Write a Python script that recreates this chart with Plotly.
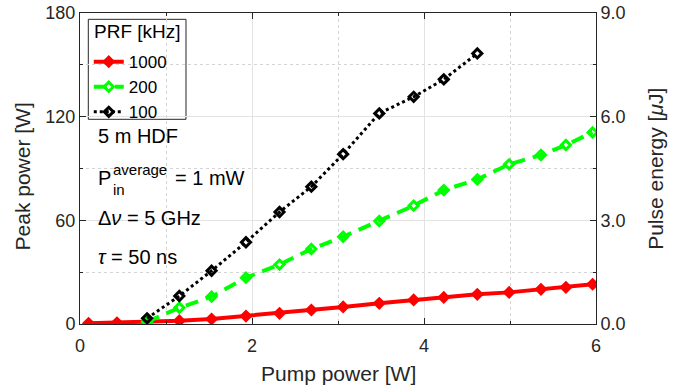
import plotly.graph_objects as go

# Pump power [W] at which each PRF setting was measured
pump_1000 = [0.10, 0.43, 0.78, 1.155, 1.53, 1.93, 2.32, 2.69, 3.06, 3.48, 3.88, 4.23, 4.62, 4.99, 5.36, 5.65, 5.96]
pump_200 = [0.78, 1.155, 1.53, 1.93, 2.32, 2.69, 3.06, 3.48, 3.88, 4.23, 4.62, 4.99, 5.36, 5.65, 5.96]
pump_100 = [0.78, 1.155, 1.53, 1.93, 2.32, 2.69, 3.06, 3.48, 3.88, 4.23, 4.62]

# Peak power [W]
peak_1000 = [0.4, 0.7, 1.1, 1.9, 2.9, 4.6, 6.2, 8.1, 9.9, 12.0, 13.9, 15.4, 17.2, 18.3, 20.1, 21.2, 23.0]
peak_200 = [1.3, 9.4, 15.8, 26.8, 34.4, 43.4, 50.5, 59.6, 68.5, 77.5, 83.7, 92.4, 97.8, 103.6, 110.9]
peak_100 = [3.3, 16.2, 30.8, 47.3, 64.8, 79.5, 98.3, 121.9, 131.5, 141.6, 156.6]

prf_labels = ["1000", "200", "100"]

x_ticks = [0, 2, 4, 6]
y_ticks = [0, 60, 120, 180]
y2_ticks = [0, 3, 6, 9]

AXIS = "#262626"
FONT = "Liberation Sans, Arial, Helvetica, sans-serif"

fig = go.Figure()

fig.add_trace(go.Scatter(
    x=pump_1000, y=peak_1000, name=prf_labels[0], mode="lines+markers",
    line=dict(color="#ff0000", width=4),
    marker=dict(symbol="diamond", size=8, color="#ff0000", line=dict(color="#ff0000", width=2)),
))
fig.add_trace(go.Scatter(
    x=pump_200, y=peak_200, name=prf_labels[1], mode="lines+markers",
    line=dict(color="#00ff00", width=4, dash="13px,8px"),
    marker=dict(symbol="diamond-open", size=7, color="#00ff00", line=dict(color="#00ff00", width=3)),
))
fig.add_trace(go.Scatter(
    x=pump_100, y=peak_100, name=prf_labels[2], mode="lines+markers",
    line=dict(color="#000000", width=3, dash="dot"),
    marker=dict(symbol="diamond-open", size=7, color="#000000", line=dict(color="#000000", width=3)),
))
# empty trace so the pulse-energy axis is laid out
fig.add_trace(go.Scatter(x=[], y=[], yaxis="y2", showlegend=False, hoverinfo="skip"))

axis_common = dict(
    showline=True, linecolor=AXIS, linewidth=1,
    ticks="inside", ticklen=6, tickcolor=AXIS, tickwidth=1,
    tickfont=dict(family=FONT, size=18, color=AXIS),
    zeroline=False, automargin=False,
)

fig.update_layout(
    width=677, height=388,
    margin=dict(l=80, r=81, t=13, b=64),
    paper_bgcolor="white", plot_bgcolor="white",
    font=dict(family=FONT, color=AXIS),
    xaxis=dict(
        range=[0, 6], tickvals=x_ticks, mirror="ticks", ticklabelstandoff=5,
        showgrid=True, gridcolor="#e3e3e3", gridwidth=1,
        minor=dict(dtick=1, tick0=0, ticks="inside", ticklen=3, tickcolor=AXIS,
                   showgrid=True, gridcolor="#d4d4d4", griddash="dot", gridwidth=1),
        **axis_common,
    ),
    yaxis=dict(
        range=[0, 180], tickvals=y_ticks,
        showgrid=True, gridcolor="#e3e3e3", gridwidth=1,
        minor=dict(dtick=30, tick0=0, ticks="inside", ticklen=3, tickcolor=AXIS,
                   showgrid=True, gridcolor="#d4d4d4", griddash="dot", gridwidth=1),
        **axis_common,
    ),
    yaxis2=dict(
        range=[0, 9], tickvals=y2_ticks, tickformat=".1f",
        overlaying="y", side="right", showgrid=False,
        minor=dict(dtick=1.5, tick0=0, ticks="inside", ticklen=3, tickcolor=AXIS),
        **axis_common,
    ),
    legend=dict(
        x=0.017, y=0.90, xanchor="left", yanchor="top",
        bgcolor="rgba(0,0,0,0)", borderwidth=0,
        font=dict(family=FONT, size=17, color="#000000"),
        tracegroupgap=0, itemwidth=30,
    ),
    showlegend=True,
)

# axis titles, placed in the margins
title_font = dict(family=FONT, size=21, color=AXIS)
fig.add_annotation(x=0.5, y=-0.158, xref="paper", yref="paper", text="Pump power [W]",
                   showarrow=False, xanchor="center", yanchor="middle", font=title_font)
fig.add_annotation(x=-0.112, y=0.475, xref="paper", yref="paper", text="Peak power [W]",
                   showarrow=False, xanchor="center", yanchor="middle", textangle=-90, font=title_font)
fig.add_annotation(x=1.115, y=0.5, xref="paper", yref="paper", text="Pulse energy [<i>μ</i>J]",
                   showarrow=False, xanchor="center", yanchor="middle", textangle=-90, font=title_font)

# legend frame and its title
fig.add_shape(type="rect", xref="paper", yref="paper",
              x0=0.0161, x1=0.2054, y0=0.6582, y1=0.9797,
              line=dict(color=AXIS, width=1), fillcolor="white", layer="between")
fig.add_annotation(x=0.024, y=0.94, xref="paper", yref="paper", text="PRF [kHz]",
                   showarrow=False, xanchor="left", yanchor="middle",
                   font=dict(family=FONT, size=19, color="#000000"))

ann_font = dict(family=FONT, size=20, color="#000000")
small_font = dict(family=FONT, size=15, color="#000000")
notes = [
    (0.19, 109.0, "5 m HDF", ann_font),
    (0.19, 84.7, "P", ann_font),
    (0.357, 89.5, "average", small_font),
    (0.357, 78.0, "in", small_font),
    (1.08, 84.7, "= 1 mW", ann_font),
    (0.19, 61.5, "Δ<i>ν</i> = 5 GHz", ann_font),
    (0.19, 38.5, "<i>τ</i> = 50 ns", ann_font),
]
for nx, ny, txt, f in notes:
    fig.add_annotation(x=nx, y=ny, xref="x", yref="y", text=txt, showarrow=False,
                       xanchor="left", yanchor="middle", font=f)

fig.write_html("out.html")
